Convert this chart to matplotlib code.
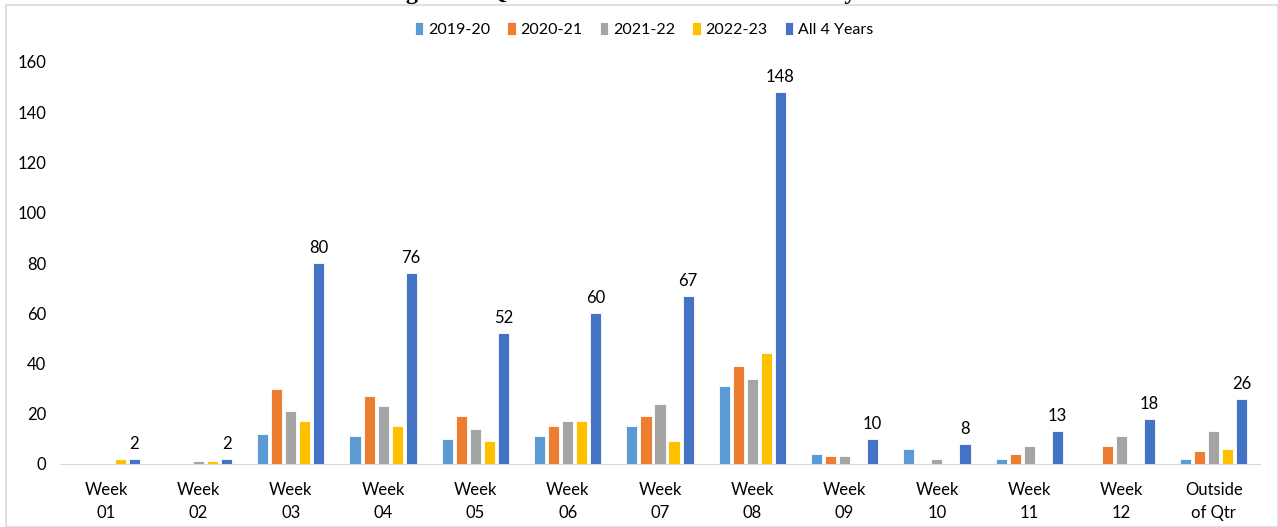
import numpy as np
import matplotlib
matplotlib.use("Agg")
import matplotlib.pyplot as plt
from matplotlib.patches import Rectangle

categories = ["Week\n01", "Week\n02", "Week\n03", "Week\n04", "Week\n05", "Week\n06",
              "Week\n07", "Week\n08", "Week\n09", "Week\n10", "Week\n11", "Week\n12",
              "Outside\nof Qtr"]
series_names = ["2019-20", "2020-21", "2021-22", "2022-23", "All 4 Years"]
y2019 = [0, 0, 12, 11, 10, 11, 15, 31, 4, 6, 2, 0, 2]
y2020 = [0, 0, 30, 27, 19, 15, 19, 39, 3, 0, 4, 7, 5]
y2021 = [0, 1, 21, 23, 14, 17, 24, 34, 3, 2, 7, 11, 13]
y2022 = [2, 1, 17, 15, 9, 17, 9, 44, 0, 0, 0, 0, 6]
yall = [2, 2, 80, 76, 52, 60, 67, 148, 10, 8, 13, 18, 26]
colors = ["#5B9BD5", "#ED7D31", "#A5A5A5", "#FFC000", "#4472C4"]

plt.rcParams["font.family"] = ["Lato", "DejaVu Sans"]

fig = plt.figure(figsize=(12.78, 5.27), dpi=100)
ax = fig.add_axes([60 / 1278, 1 - 464 / 527, 1200 / 1278, (464 - 62) / 527])

x = np.arange(len(categories))
pitch, width = 0.152, 0.12
data = [y2019, y2020, y2021, y2022, yall]
for i, (vals, name, col) in enumerate(zip(data, series_names, colors)):
    bars = ax.bar(x + (i - 2) * pitch, vals, width, color=col, label=name,
                  edgecolor="white", linewidth=0.6, zorder=3)
    if name == "All 4 Years":
        for b, v in zip(bars, vals):
            ax.annotate(str(v), (b.get_x() + b.get_width() / 2, v), xytext=(0, 5),
                        textcoords="offset points", ha="center", va="bottom",
                        fontsize=12, color="#000000")

ax.set_xlim(-0.5, len(categories) - 0.5)
ax.set_ylim(0, 160)
ax.set_yticks(range(0, 161, 20))
ax.set_xticks(x)
ax.set_xticklabels(categories, fontsize=12, linespacing=1.5)
ax.tick_params(axis="both", length=0, colors="#000000")
ax.tick_params(axis="y", labelsize=12, pad=10)
ax.tick_params(axis="x", pad=13)
for s in ["top", "right", "left"]:
    ax.spines[s].set_visible(False)
ax.spines["bottom"].set_color("#D9D9D9")

ax.legend(loc="upper center", bbox_to_anchor=(0.5 - 16 / 1200, (464 - 16) / (464 - 62)),
          ncol=5, frameon=False, fontsize=11.5, handlelength=0.55, handleheight=0.8,
          handletextpad=0.3, columnspacing=1.05, borderaxespad=0)

# chart-area border
fig.patches.append(Rectangle((6 / 1278, 0), 1 - 6 / 1278, 1 - 5 / 527,
                             transform=fig.transFigure, fill=False,
                             edgecolor="#D9D9D9", linewidth=1.2))

# title sits above the visible area, only descenders show
fig.text(343 / 1278, 1 + 1 / 527, "Timing in the Quarter \u2013 All Submissions Made by Week",
         ha="left", va="baseline", fontsize=17.4, fontweight="bold",
         family="Liberation Serif")

fig.savefig("out.png", dpi=100)
